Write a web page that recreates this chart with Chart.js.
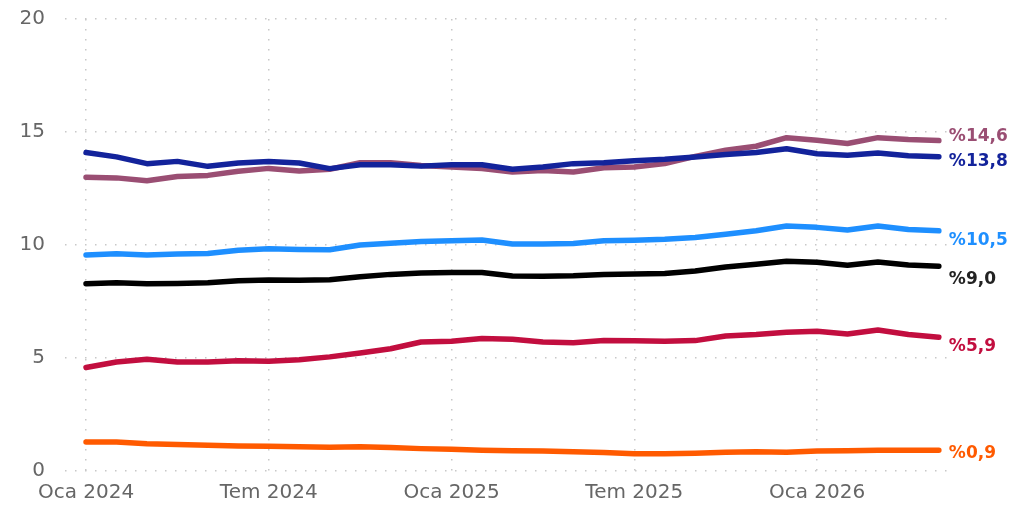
<!DOCTYPE html>
<html>
<head>
<meta charset="utf-8">
<script src="https://cdn.jsdelivr.net/npm/chart.js@4/dist/chart.umd.min.js"></script>
<style>
  html, body { margin: 0; padding: 0; background: #fff; }
  #wrap { width: 1009px; height: 510px; position: relative; }
</style>
</head>
<body>
<div id="wrap"><canvas id="c" width="1009" height="510"></canvas></div>
<script>
// Months: Oca 2024 ... May 2026 (29 monthly points)
const months = ['2024-01','2024-02','2024-03','2024-04','2024-05','2024-06','2024-07','2024-08','2024-09','2024-10','2024-11','2024-12',
                '2025-01','2025-02','2025-03','2025-04','2025-05','2025-06','2025-07','2025-08','2025-09','2025-10','2025-11','2025-12',
                '2026-01','2026-02','2026-03','2026-04','2026-05'];
const xTickLabels = ['Oca 2024','Tem 2024','Oca 2025','Tem 2025','Oca 2026'];
const yTicks = [0, 5, 10, 15, 20];

const seriesMauve = [13.0,12.97,12.84,13.03,13.08,13.26,13.39,13.27,13.35,13.64,13.64,13.52,13.45,13.38,13.23,13.3,13.23,13.42,13.45,13.6,13.92,14.19,14.37,14.75,14.63,14.49,14.75,14.67,14.62];
const seriesNavy  = [14.09,13.9,13.6,13.7,13.48,13.63,13.69,13.63,13.38,13.55,13.55,13.49,13.55,13.55,13.35,13.45,13.6,13.64,13.73,13.79,13.89,14.0,14.09,14.26,14.04,13.97,14.07,13.95,13.91];
const seriesSky   = [9.56,9.61,9.56,9.6,9.62,9.77,9.83,9.8,9.79,10.0,10.08,10.15,10.19,10.22,10.04,10.04,10.07,10.19,10.21,10.25,10.33,10.48,10.63,10.84,10.78,10.66,10.84,10.69,10.63];
const seriesBlack = [8.29,8.33,8.29,8.3,8.33,8.42,8.45,8.44,8.46,8.6,8.7,8.76,8.78,8.78,8.63,8.62,8.64,8.7,8.72,8.74,8.85,9.03,9.15,9.28,9.24,9.1,9.25,9.12,9.06];
const seriesRed   = [4.58,4.82,4.94,4.82,4.82,4.88,4.86,4.92,5.05,5.22,5.41,5.71,5.74,5.86,5.83,5.71,5.68,5.77,5.76,5.74,5.77,5.97,6.04,6.14,6.18,6.06,6.24,6.04,5.92];
const seriesOrange= [1.28,1.28,1.21,1.17,1.14,1.11,1.1,1.07,1.05,1.07,1.04,0.99,0.96,0.92,0.9,0.88,0.85,0.82,0.76,0.76,0.79,0.83,0.85,0.83,0.88,0.9,0.92,0.92,0.92];

const endLabels = ['%14,6','%13,8','%10,5','%9,0','%5,9','%0,9'];

const FONT = '"DejaVu Sans", sans-serif';
const series = [seriesMauve, seriesNavy, seriesSky, seriesBlack, seriesRed, seriesOrange];
const colors = ['#9a4e73', '#13239b', '#1e8fff', '#000000', '#c20e3f', '#ff5a00'];
const labelColors = ['#9a4e73', '#13239b', '#1e8fff', '#222222', '#c20e3f', '#ff5a00'];
const drawOrder = [2, 1, 3, 4, 5, 6];
const labelNudge = [-4, 5, 10, 13, 9, 3];

const datasets = series.map((s, k) => ({
  label: endLabels[k],
  data: s.map((v, i) => ({ x: i, y: v })),
  borderColor: colors[k],
  backgroundColor: colors[k],
  borderWidth: 5.5,
  pointRadius: 0,
  tension: 0,
  borderJoinStyle: 'round',
  borderCapStyle: 'round',
  fill: false,
  order: drawOrder[k]
}));

const endLabelPlugin = {
  id: 'endLabels',
  afterDatasetsDraw(chart) {
    const ctx = chart.ctx;
    const xs = chart.scales.x, ys = chart.scales.y;
    ctx.save();
    ctx.font = 'bold 17px ' + FONT;
    ctx.textAlign = 'left';
    ctx.textBaseline = 'middle';
    series.forEach((s, k) => {
      const last = s.length - 1;
      const px = xs.getPixelForValue(last) + 10;
      const py = ys.getPixelForValue(s[last]) + labelNudge[k];
      ctx.fillStyle = labelColors[k];
      ctx.fillText(endLabels[k], px, py);
    });
    ctx.restore();
  }
};

const gridStyle = {
  color: '#c8c8c8',
  lineWidth: 1.5,
  drawTicks: false
};

new Chart(document.getElementById('c'), {
  type: 'line',
  data: { datasets },
  plugins: [endLabelPlugin],
  options: {
    responsive: false,
    animation: false,
    layout: { padding: { top: 19, right: 54, bottom: 0, left: 0 } },
    plugins: { legend: { display: false }, tooltip: { enabled: false } },
    scales: {
      x: {
        type: 'linear',
        min: -0.69,
        max: 28.53,
        afterBuildTicks(scale) {
          scale.ticks = xTickLabels.map((_, i) => ({ value: i * 6 }));
        },
        afterFit(scale) { scale.height = 39; scale.paddingLeft = 0; scale.paddingRight = 0; },
        ticks: {
          padding: 10,
          color: '#666666',
          font: { family: FONT, size: 20 },
          maxRotation: 0,
          autoSkip: false,
          callback: (v) => xTickLabels[Math.round(v / 6)]
        },
        grid: { ...gridStyle },
        border: { display: false, dash: [1.5, 8.5] }
      },
      y: {
        min: 0,
        max: 20,
        afterBuildTicks(scale) {
          scale.ticks = yTicks.map(v => ({ value: v }));
        },
        afterFit(scale) { scale.width = 65; scale.paddingTop = 0; scale.paddingBottom = 0; },
        ticks: {
          padding: 20,
          color: '#666666',
          font: { family: FONT, size: 20 }
        },
        grid: { ...gridStyle },
        border: { display: false, dash: [1.5, 8.5] }
      }
    }
  }
});
</script>
</body>
</html>
